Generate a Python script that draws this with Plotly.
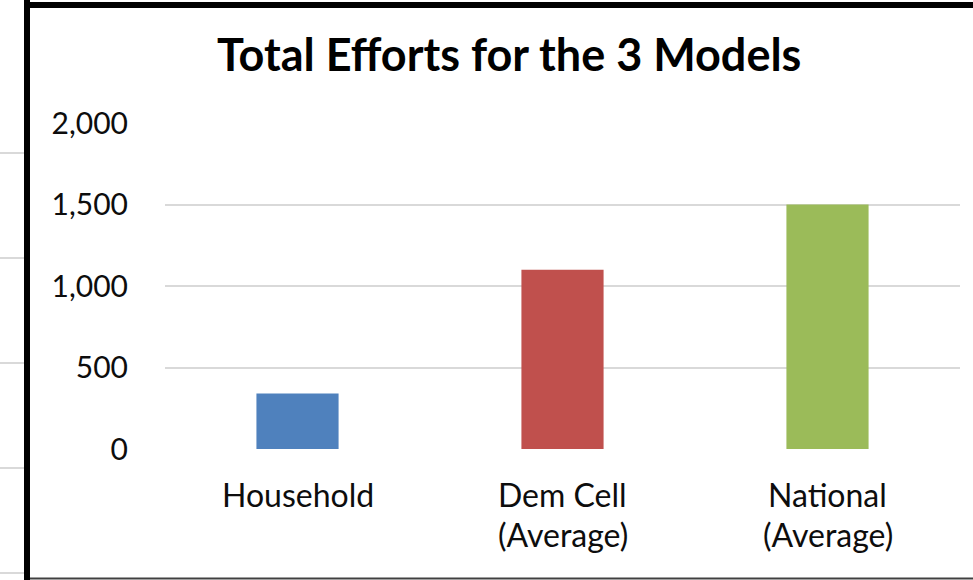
import plotly.graph_objects as go

# ---- data ----
categories = ["Household", "Dem Cell (Average)", "National (Average)"]
category_lines = [["Household"], ["Dem Cell", "(Average)"], ["National", "(Average)"]]
values = [340, 1100, 1500]
bar_colors = ["#4F81BD", "#C0504D", "#9BBB59"]
y_tick_vals = [0, 500, 1000, 1500, 2000]
y_tick_text = ["0", "500", "1,000", "1,500", "2,000"]
title_text = "Total Efforts for the 3 Models"

# ---- layout geometry (pixels) ----
W, H = 973, 580
L, R, T, B = 165, 13, 123, 131


def px(x):
    return (x - L) / (W - L - R)


def py(y):
    return 1 - (y - T) / (H - T - B)


fig = go.Figure(
    go.Bar(
        x=categories,
        y=values,
        marker=dict(color=bar_colors, line=dict(width=0)),
        width=0.31,
        hoverinfo="skip",
    )
)

FONT = "Lato, 'Open Sans', sans-serif"

fig.update_layout(
    width=W,
    height=H,
    margin=dict(l=L, r=R, t=T, b=B, pad=0),
    paper_bgcolor="white",
    plot_bgcolor="white",
    showlegend=False,
    font=dict(family=FONT, color="#000000"),
    xaxis=dict(
        showgrid=False,
        showline=False,
        zeroline=False,
        ticks="",
        showticklabels=False,
        fixedrange=True,
    ),
    yaxis=dict(
        range=[0, 2000],
        tickvals=y_tick_vals,
        ticktext=y_tick_text,
        showgrid=True,
        gridcolor="#d9d9d9",
        gridwidth=1.6,
        zeroline=False,
        showline=False,
        ticks="",
        tickfont=dict(size=30, family=FONT, color="#0d0d0d"),
        ticklabelstandoff=36,
        fixedrange=True,
    ),
)

# category labels (one annotation per text line)
line_centers = [494, 534]
for cat, lines in zip(categories, category_lines):
    for i, txt in enumerate(lines):
        fig.add_annotation(
            text=txt, x=cat, xref="x", yref="paper", y=py(line_centers[i]),
            xanchor="center", yanchor="middle", showarrow=False,
            font=dict(size=32, family=FONT, color="#0d0d0d"),
        )

shapes = []
# chart border (black frame)
shapes.append(dict(type="line", xref="paper", yref="paper",
                   x0=px(27), x1=px(27), y0=py(0), y1=py(580),
                   line=dict(color="black", width=6)))
shapes.append(dict(type="line", xref="paper", yref="paper",
                   x0=px(24), x1=px(973), y0=py(5), y1=py(5),
                   line=dict(color="black", width=6)))
shapes.append(dict(type="line", xref="paper", yref="paper",
                   x0=px(30), x1=px(973), y0=py(578.5), y1=py(578.5),
                   line=dict(color="#404040", width=2)))
# stray grid lines outside the chart frame (left)
for yy in [153, 258, 363, 468, 573]:
    shapes.append(dict(type="line", xref="paper", yref="paper",
                       x0=px(0), x1=px(24), y0=py(yy), y1=py(yy),
                       line=dict(color="#d9d9d9", width=2)))
fig.update_layout(shapes=shapes)

fig.add_annotation(
    text="<b>" + title_text + "</b>",
    xref="paper", yref="paper",
    x=px(509), y=py(54),
    xanchor="center", yanchor="middle",
    showarrow=False,
    font=dict(size=45, family=FONT, color="#000000"),
)

fig.write_html("out.html")
